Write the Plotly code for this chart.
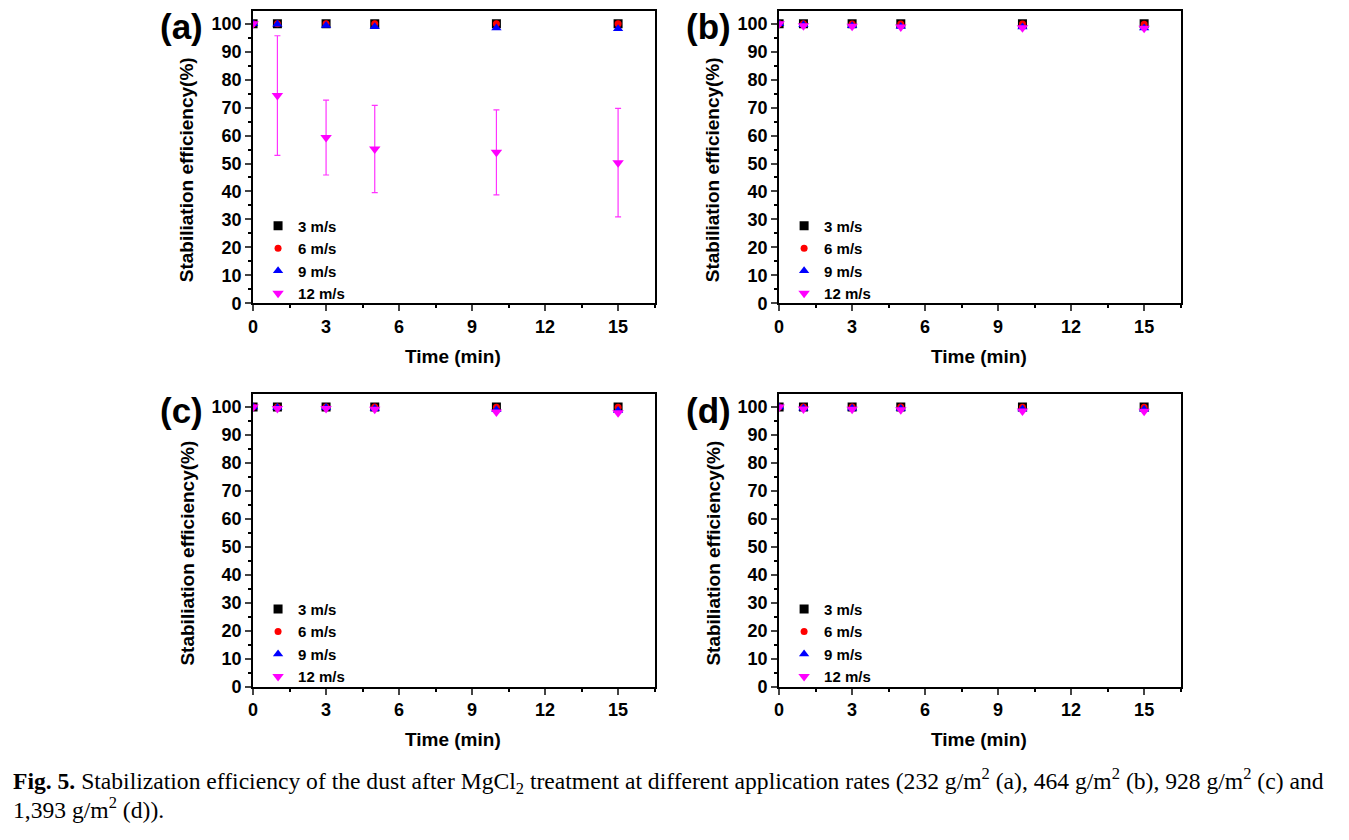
import plotly.graph_objects as go

times = [0, 1, 3, 5, 10, 15]
speeds = ["3 m/s", "6 m/s", "9 m/s", "12 m/s"]

# panel (a) 232 g/m2
a_3 = [100, 100, 100, 100, 100, 100]
a_6 = [100, 100, 100, 100, 100, 100]
a_9 = [100, 99.8, 99.4, 98.9, 98.5, 98.2]
a_12 = [100, 74.3, 59.3, 55.2, 54.0, 50.3]
a_12_err = [0, 21.4, 13.4, 15.6, 15.2, 19.4]

# panel (b) 464 g/m2
b_3 = [100, 100, 100, 100, 100, 100]
b_6 = [100, 100, 99.9, 99.9, 99.9, 99.8]
b_9 = [100, 99.6, 99.3, 99.0, 98.8, 98.5]
b_12 = [100, 99.3, 99.1, 98.8, 98.6, 98.4]

# panel (c) 928 g/m2
c_3 = [100, 100, 100, 100, 100, 100]
c_6 = [100, 100, 100, 100, 99.9, 99.9]
c_9 = [100, 99.8, 99.8, 99.5, 99.0, 98.8]
c_12 = [100, 99.5, 99.5, 99.2, 98.2, 98.0]

# panel (d) 1,393 g/m2
d_3 = [100, 100, 100, 100, 100, 100]
d_6 = [100, 100, 100, 100, 99.9, 99.9]
d_9 = [100, 99.6, 99.6, 99.5, 99.3, 99.2]
d_12 = [100, 99.3, 99.2, 99.0, 98.6, 98.5]

panel_labels = ["(a)", "(b)", "(c)", "(d)"]
x_ticks = [0, 3, 6, 9, 12, 15]
y_ticks = [0, 10, 20, 30, 40, 50, 60, 70, 80, 90, 100]

panels = [
    (a_3, a_6, a_9, a_12, a_12_err),
    (b_3, b_6, b_9, b_12, None),
    (c_3, c_6, c_9, c_12, None),
    (d_3, d_6, d_9, d_12, None),
]

W, H = 1349, 830


def sx(px):
    return px / W


def sy(py):
    return 1 - py / H


# screen pixel boxes of plot areas: (left, right, top, bottom)
boxes = [(249, 652, 11, 307), (777, 1180, 11, 307), (249, 652, 399, 695), (777, 1180, 399, 695)]

colors = ["#000000", "#ff0000", "#0000ff", "#ff00ff"]
symbols = ["square", "circle", "triangle-up", "triangle-down"]
sizes = [9, 7, 9, 10]

fig = go.Figure()
layout = dict(width=W, height=H, margin=dict(l=0, r=0, t=0, b=0),
              paper_bgcolor="white", plot_bgcolor="white", showlegend=True,
              font=dict(family="Arial, Liberation Sans, sans-serif", color="black"))
annotations = []

for i, (box, data) in enumerate(zip(boxes, panels)):
    l, r, t, b = box
    xa = "xaxis" if i == 0 else f"xaxis{i+1}"
    ya = "yaxis" if i == 0 else f"yaxis{i+1}"
    xr = "x" if i == 0 else f"x{i+1}"
    yr = "y" if i == 0 else f"y{i+1}"
    lg = "legend" if i == 0 else f"legend{i+1}"
    series = data[:4]
    err = data[4]
    for k in range(4):
        kw = {}
        if k == 3 and err is not None:
            kw["error_y"] = dict(type="data", array=err, visible=True,
                                 color="#ff33ff", thickness=1.2, width=3)
        fig.add_trace(go.Scatter(
            x=times, y=series[k], mode="markers", name=speeds[k],
            marker=dict(color=colors[k], symbol=symbols[k], size=sizes[k],
                        line=dict(width=0)),
            xaxis=xr, yaxis=yr, legend=lg, **kw))
    layout[xa] = dict(domain=[sx(l), sx(r)], anchor=yr, range=[0, 16.5],
                      tickmode="array", tickvals=x_ticks, ticks="outside",
                      ticklen=6, tickwidth=2, showline=True, linewidth=2,
                      linecolor="black", mirror=True, showgrid=False, zeroline=False,
                      tickfont=dict(size=18, weight="bold"),
                      minor=dict(tickvals=[1.5, 4.5, 7.5, 10.5, 13.5, 16.5], ticks="outside",
                                 ticklen=3, tickwidth=2, tickcolor="black"))
    layout[ya] = dict(domain=[sy(b), sy(t)], anchor=xr, range=[0, 104.6],
                      tickmode="array", tickvals=y_ticks, ticks="outside",
                      ticklen=6, tickwidth=2, showline=True, linewidth=2,
                      linecolor="black", mirror=True, showgrid=False, zeroline=False,
                      tickfont=dict(size=18, weight="bold"),
                      minor=dict(tickvals=[5, 15, 25, 35, 45, 55, 65, 75, 85, 95], ticks="outside",
                                 ticklen=3, tickwidth=2, tickcolor="black"))
    layout[lg] = dict(x=sx(l + 5), y=sy(t + 201), xanchor="left", yanchor="top",
                      bgcolor="rgba(0,0,0,0)", font=dict(size=15, weight="bold"),
                      tracegroupgap=0, itemwidth=30)
    annotations.append(dict(text=panel_labels[i], x=sx(l - 95), y=sy(t + 16),
                            xref="paper", yref="paper", xanchor="left", yanchor="middle",
                            showarrow=False, font=dict(size=35, weight="bold")))
    annotations.append(dict(text="Stabiliation efficiency(%)", x=sx(l - 66),
                            y=sy(t + 161), xref="paper", yref="paper",
                            textangle=-90, xanchor="center", yanchor="middle",
                            showarrow=False, font=dict(size=19, weight="bold")))
    annotations.append(dict(text="Time (min)", x=sx(l + 201), y=sy(b + 54),
                            xref="paper", yref="paper", xanchor="center", yanchor="middle",
                            showarrow=False, font=dict(size=19, weight="bold")))

cap_font = dict(family="Liberation Serif, Times New Roman, serif", size=23.6, color="black")
annotations.append(dict(
    text="<b>Fig. 5.</b> Stabilization efficiency of the dust after MgCl<sub>2</sub> treatment at different application rates (232 g/m<sup>2</sup> (a), 464 g/m<sup>2</sup> (b), 928 g/m<sup>2</sup> (c) and",
    x=sx(6), y=sy(791), xref="paper", yref="paper", xanchor="left", yanchor="middle",
    showarrow=False, font=cap_font))
annotations.append(dict(
    text="1,393 g/m<sup>2</sup> (d)).",
    x=sx(6), y=sy(818), xref="paper", yref="paper", xanchor="left", yanchor="middle",
    showarrow=False, font=cap_font))

layout["annotations"] = annotations
fig.update_layout(**layout)
fig.write_html(
    "out.html",
    config={"displayModeBar": False},
    post_script="document.documentElement.style.margin='0';document.body.style.margin='0';"
                "document.body.style.overflow='hidden';",
)
